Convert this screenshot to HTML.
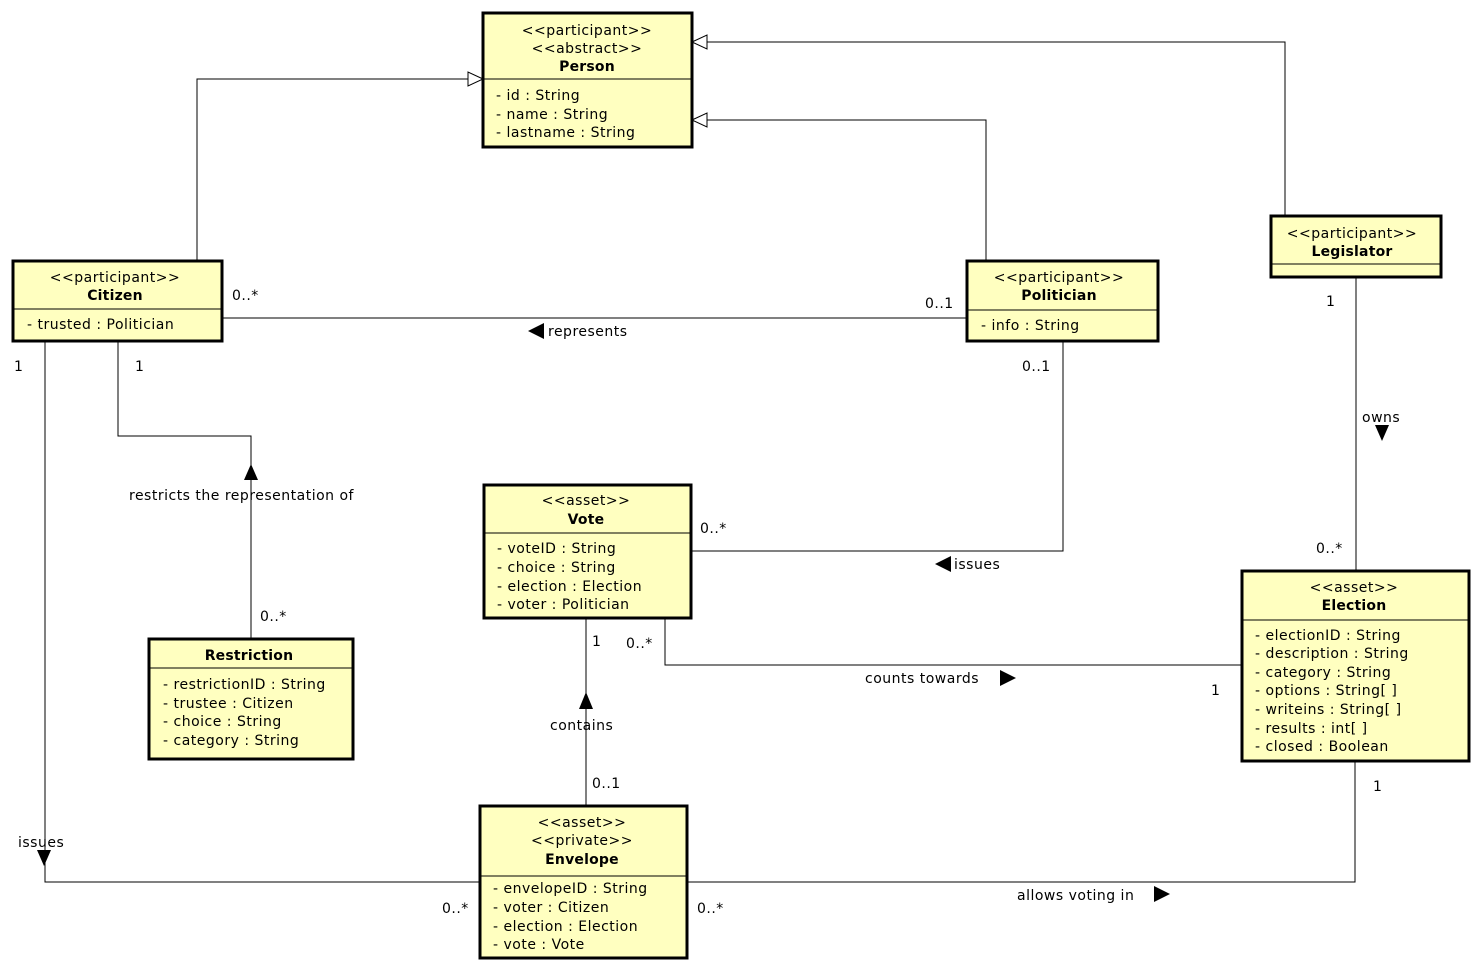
<!DOCTYPE html>
<html><head><meta charset="utf-8"><style>
html,body{margin:0;padding:0;background:#fff}
svg{display:block;font-family:"DejaVu Sans","Liberation Sans",sans-serif;font-size:14px;letter-spacing:0.5px}
.b{fill:#ffffc0;stroke:#000;stroke-width:3}
.d{stroke:#000;stroke-width:1}
.l{fill:none;stroke:#000;stroke-width:1}
.c{text-anchor:middle}
.bold{font-weight:bold;letter-spacing:0.2px}
</style></head><body>
<svg width="1482" height="972" viewBox="0 0 1482 972">
<polyline class="l" points="197,261 197,79 483,79"/>
<polygon points="483,79 468,72 468,86" fill="#fff" stroke="#000"/>
<polyline class="l" points="986,261 986,120 692,120"/>
<polygon points="692,120 707,113 707,127" fill="#fff" stroke="#000"/>
<polyline class="l" points="1285,216 1285,42 692,42"/>
<polygon points="692,42 707,35 707,49" fill="#fff" stroke="#000"/>
<line class="l" x1="222" y1="318" x2="967" y2="318"/>
<polygon points="528,331 544,323 544,339"/>
<polyline class="l" points="118,341 118,436 251,436 251,639"/>
<polygon points="251,464 244,480 258,480"/>
<polyline class="l" points="45,341 45,882 480,882"/>
<polygon points="44,866 37,850 51,850"/>
<polyline class="l" points="1063,341 1063,551 691,551"/>
<polygon points="935,564 951,556 951,572"/>
<line class="l" x1="1356" y1="277" x2="1356" y2="571"/>
<polygon points="1382,441 1375,425 1389,425"/>
<polyline class="l" points="665,618 665,665 1242,665"/>
<polygon points="1016,678 1000,670 1000,686"/>
<line class="l" x1="586" y1="618" x2="586" y2="806"/>
<polygon points="586,692 579,709 593,709"/>
<polyline class="l" points="687,882 1355,882 1355,761"/>
<polygon points="1170,894 1154,886 1154,902"/>
<text x="232" y="300">0..*</text>
<text x="925" y="308">0..1</text>
<text x="548" y="336">represents</text>
<text x="14" y="371">1</text>
<text x="135" y="371">1</text>
<text x="129" y="500">restricts the representation of</text>
<text x="260" y="621">0..*</text>
<text x="1022" y="371">0..1</text>
<text x="700" y="533">0..*</text>
<text x="954" y="569">issues</text>
<text x="1326" y="306">1</text>
<text x="1362" y="422">owns</text>
<text x="1316" y="553">0..*</text>
<text x="626" y="648">0..*</text>
<text x="592" y="646">1</text>
<text x="865" y="683">counts towards</text>
<text x="1211" y="695">1</text>
<text x="550" y="730">contains</text>
<text x="592" y="788">0..1</text>
<text x="1373" y="791">1</text>
<text x="18" y="847">issues</text>
<text x="442" y="913">0..*</text>
<text x="697" y="913">0..*</text>
<text x="1017" y="900">allows voting in</text>
<rect class="b" x="483" y="13" width="209" height="134"/>
<line class="d" x1="483" y1="79" x2="692" y2="79"/>
<text class="c" x="587" y="35">&lt;&lt;participant&gt;&gt;</text>
<text class="c" x="587" y="53">&lt;&lt;abstract&gt;&gt;</text>
<text class="c bold" x="587" y="71">Person</text>
<text x="496" y="100">- id : String</text>
<text x="496" y="119">- name : String</text>
<text x="496" y="137">- lastname : String</text>
<rect class="b" x="13" y="261" width="209" height="80"/>
<line class="d" x1="13" y1="309" x2="222" y2="309"/>
<text class="c" x="115" y="282">&lt;&lt;participant&gt;&gt;</text>
<text class="c bold" x="115" y="300">Citizen</text>
<text x="27" y="329">- trusted : Politician</text>
<rect class="b" x="967" y="261" width="191" height="80"/>
<line class="d" x1="967" y1="310" x2="1158" y2="310"/>
<text class="c" x="1059" y="282">&lt;&lt;participant&gt;&gt;</text>
<text class="c bold" x="1059" y="300">Politician</text>
<text x="981" y="330">- info : String</text>
<rect class="b" x="1271" y="216" width="170" height="61"/>
<line class="d" x1="1271" y1="264" x2="1441" y2="264"/>
<text class="c" x="1352" y="238">&lt;&lt;participant&gt;&gt;</text>
<text class="c bold" x="1352" y="256">Legislator</text>
<rect class="b" x="484" y="485" width="207" height="133"/>
<line class="d" x1="484" y1="533" x2="691" y2="533"/>
<text class="c" x="586" y="505">&lt;&lt;asset&gt;&gt;</text>
<text class="c bold" x="586" y="524">Vote</text>
<text x="497" y="553">- voteID : String</text>
<text x="497" y="572">- choice : String</text>
<text x="497" y="591">- election : Election</text>
<text x="497" y="609">- voter : Politician</text>
<rect class="b" x="149" y="639" width="204" height="120"/>
<line class="d" x1="149" y1="668" x2="353" y2="668"/>
<text class="c bold" x="249" y="660">Restriction</text>
<text x="163" y="689">- restrictionID : String</text>
<text x="163" y="708">- trustee : Citizen</text>
<text x="163" y="726">- choice : String</text>
<text x="163" y="745">- category : String</text>
<rect class="b" x="480" y="806" width="207" height="152"/>
<line class="d" x1="480" y1="876" x2="687" y2="876"/>
<text class="c" x="582" y="827">&lt;&lt;asset&gt;&gt;</text>
<text class="c" x="582" y="845">&lt;&lt;private&gt;&gt;</text>
<text class="c bold" x="582" y="864">Envelope</text>
<text x="493" y="893">- envelopeID : String</text>
<text x="493" y="912">- voter : Citizen</text>
<text x="493" y="931">- election : Election</text>
<text x="493" y="949">- vote : Vote</text>
<rect class="b" x="1242" y="571" width="227" height="190"/>
<line class="d" x1="1242" y1="620" x2="1469" y2="620"/>
<text class="c" x="1354" y="592">&lt;&lt;asset&gt;&gt;</text>
<text class="c bold" x="1354" y="610">Election</text>
<text x="1255" y="640">- electionID : String</text>
<text x="1255" y="658">- description : String</text>
<text x="1255" y="677">- category : String</text>
<text x="1255" y="695">- options : String[ ]</text>
<text x="1255" y="714">- writeins : String[ ]</text>
<text x="1255" y="733">- results : int[ ]</text>
<text x="1255" y="751">- closed : Boolean</text>
</svg>
</body></html>
